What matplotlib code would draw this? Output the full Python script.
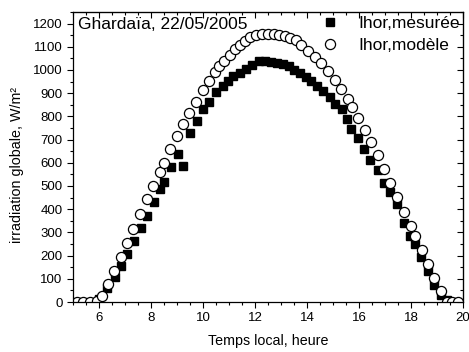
import matplotlib.pyplot as plt
from matplotlib.ticker import MultipleLocator

plt.rcParams['font.family'] = ['Liberation Sans', 'DejaVu Sans']

# Ihor mesurée (heure, W/m²)
t_mes = [6.0, 6.32, 6.60, 6.86, 7.09, 7.36, 7.60, 7.85, 8.10, 8.36, 8.50, 8.76,
         9.03, 9.24, 9.50, 9.76, 10.01, 10.25, 10.50, 10.76, 10.95, 11.14, 11.42,
         11.66, 11.90, 12.15, 12.40, 12.62, 12.83, 13.09, 13.30, 13.51, 13.73,
         13.95, 14.16, 14.39, 14.63, 14.87, 15.08, 15.33, 15.55, 15.70, 15.96,
         16.21, 16.43, 16.72, 16.97, 17.19, 17.47, 17.73, 17.96, 18.15, 18.38,
         18.64, 18.90, 19.15, 19.40]
g_mes = [15, 59, 106, 157, 207, 265, 320, 371, 430, 486, 519, 582,
         638, 588, 727, 778, 830, 862, 907, 930, 952, 972, 987,
         1004, 1023, 1037, 1040, 1034, 1031, 1024, 1015, 1000, 987,
         970, 953, 932, 908, 882, 852, 830, 788, 746, 706,
         659, 613, 567, 512, 476, 422, 342, 285, 250, 193,
         135, 73, 32, 8]

# Ihor modèle
t_mod = [5.14, 5.40, 5.65, 5.91, 6.10, 6.33, 6.59, 6.83, 7.08, 7.32, 7.58, 7.83,
         8.09, 8.33, 8.49, 8.75, 9.00, 9.23, 9.48, 9.72, 9.99, 10.22, 10.45,
         10.62, 10.82, 11.03, 11.23, 11.42, 11.62, 11.82, 12.04, 12.27, 12.50,
         12.72, 12.93, 13.15, 13.35, 13.56, 13.79, 14.05, 14.31, 14.55, 14.81,
         15.06, 15.32, 15.58, 15.73, 15.98, 16.23, 16.47, 16.72, 16.98, 17.19,
         17.47, 17.74, 17.99, 18.15, 18.41, 18.64, 18.90, 19.15, 19.37, 19.57,
         19.80]
g_mod = [0, 0, 0, 6, 26, 76, 134, 193, 255, 316, 381, 442,
         500, 561, 601, 659, 714, 767, 815, 864, 912, 951, 990,
         1017, 1040, 1066, 1091, 1109, 1127, 1140, 1149, 1155, 1157,
         1155, 1151, 1146, 1138, 1128, 1109, 1080, 1056, 1029, 996,
         957, 917, 875, 840, 793, 740, 690, 634, 572, 512,
         452, 390, 328, 286, 224, 164, 105, 49, 2, 0,
         0]

fig = plt.figure(figsize=(4.69, 3.52), dpi=100)
ax = fig.add_axes([0.1557, 0.142, 0.8313, 0.824])

ax.plot(t_mes, g_mes, 's', color='black', markersize=6, label='Ihor,mesurée')
ax.plot(t_mod, g_mod, 'o', markerfacecolor='white', markeredgecolor='black',
        markeredgewidth=0.9, markersize=7.3, label='Ihor,modèle')

ax.set_xlim(5, 20)
ax.set_ylim(0, 1250)
ax.xaxis.set_major_locator(MultipleLocator(2))
ax.xaxis.set_minor_locator(MultipleLocator(0.5))
ax.yaxis.set_major_locator(MultipleLocator(100))
ax.yaxis.set_minor_locator(MultipleLocator(50))
ax.tick_params(which='both', direction='out', top=False, right=False, labelsize=9.5, width=0.8)
ax.tick_params(which='major', length=4)
ax.tick_params(which='minor', length=2)

# ticks inward on top and right
ax_t = ax.secondary_xaxis('top')
ax_t.xaxis.set_major_locator(MultipleLocator(2))
ax_t.xaxis.set_minor_locator(MultipleLocator(0.5))
ax_t.tick_params(which='both', direction='in', labeltop=False, width=0.8)
ax_t.tick_params(which='major', length=4)
ax_t.tick_params(which='minor', length=2)
ax_r = ax.secondary_yaxis('right')
ax_r.yaxis.set_major_locator(MultipleLocator(100))
ax_r.yaxis.set_minor_locator(MultipleLocator(50))
ax_r.tick_params(which='both', direction='in', labelright=False, width=0.8)
ax_r.tick_params(which='major', length=4)
ax_r.tick_params(which='minor', length=2)

for s in ax.spines.values():
    s.set_linewidth(0.9)

ax.set_xlabel('Temps local, heure', fontsize=10.3, labelpad=7)
ax.set_ylabel('irradiation globale, W/m²', fontsize=10.3)
ax.yaxis.set_label_coords(-0.126, 0.472)

ax.text(0.012, 0.982, 'Ghardaïa, 22/05/2005', transform=ax.transAxes,
        fontsize=12.5, va='top', ha='left')
ax.legend(loc='upper right', frameon=False, fontsize=12.5, handletextpad=1.0,
          borderaxespad=0.05, borderpad=0.15, labelspacing=0.42, handlelength=1.2)

fig.savefig('out.png', dpi=100)
